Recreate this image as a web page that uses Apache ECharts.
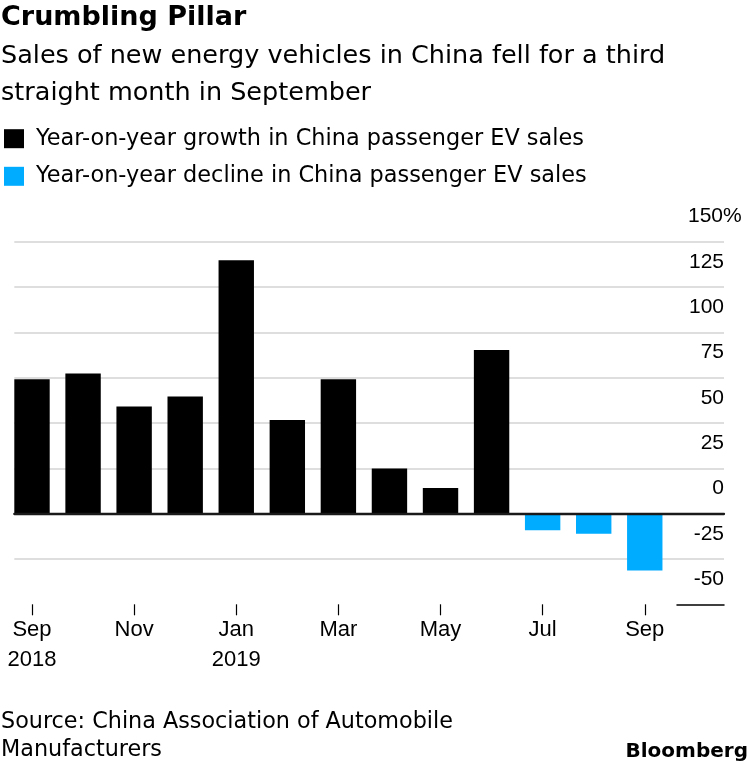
<!DOCTYPE html>
<html><head><meta charset="utf-8">
<script src="https://cdn.jsdelivr.net/npm/echarts@6/dist/echarts.min.js"></script>
<style>html,body{margin:0;padding:0;background:#fff}#c{width:750px;height:768px}</style>
</head><body><div id="c"></div>
<script>
const categories = ['Sep\n2018','Oct','Nov','Dec','Jan\n2019','Feb','Mar','Apr','May','Jun','Jul','Aug','Sep'];
const values = [74.2, 77.3, 59.1, 64.6, 139.8, 51.7, 74.2, 24.9, 14.2, 90.3, -9.1, -11.1, -31.3];
const seriesNames = ['Year-on-year growth in China passenger EV sales', 'Year-on-year decline in China passenger EV sales'];
const yMin = -50, yMax = 150, yStep = 25;

const FONT = '"DejaVu Sans", sans-serif';
const AXFONT = '"Liberation Sans", Arial, sans-serif';
const TOP = 241.7, BOTTOM = 768 - 604.3;
const everyOther = (i) => i % 2 === 0;
const axText = {fontFamily: AXFONT, fontSize: 21, lineHeight: 21, color: '#000'};

const chart = echarts.init(document.getElementById('c'), null, {renderer: 'canvas'});
chart.setOption({
  animation: false,
  backgroundColor: '#fff',
  title: [
    {text: 'Crumbling Pillar', left: 1, top: 4.5, padding: 0,
     textStyle: {fontFamily: FONT, fontWeight: 'bold', fontSize: 27, lineHeight: 27, color: '#000'}},
    {text: 'Sales of new energy vehicles in China fell for a third\nstraight month in September', left: 1, top: 37.5, padding: 0,
     textStyle: {fontFamily: FONT, fontWeight: 'normal', fontSize: 25.5, lineHeight: 37, color: '#000'}},
    {text: 'Source: China Association of Automobile\nManufacturers', left: 1, top: 708, padding: 0,
     textStyle: {fontFamily: FONT, fontWeight: 'normal', fontSize: 22.3, lineHeight: 28, color: '#000'}},
    {text: 'Bloomberg', right: 2, top: 742, padding: 0,
     textStyle: {fontFamily: FONT, fontWeight: 'bold', fontSize: 20, lineHeight: 20, color: '#000'}}
  ],
  legend: {
    orient: 'vertical', left: 4, top: 127.7, padding: 0,
    itemWidth: 20, itemHeight: 19, itemGap: 15.6, icon: 'rect', selectedMode: false,
    textStyle: {fontFamily: FONT, fontSize: 22.4, lineHeight: 22, color: '#000', padding: [0, 0, 0, 7]},
    data: seriesNames
  },
  grid: [
    {left: 6.47, right: 79.7, top: TOP, bottom: BOTTOM},
    {left: 14.3, right: 26, top: TOP, bottom: BOTTOM},
    {left: 677, right: 26, top: TOP, bottom: BOTTOM}
  ],
  xAxis: [
    {gridIndex: 0, type: 'category', data: categories, boundaryGap: true, position: 'bottom',
     axisLine: {show: false, onZero: false},
     axisTick: {show: true, alignWithLabel: true, interval: everyOther, length: 11, lineStyle: {color: '#000', width: 1.2}},
     axisLabel: {interval: everyOther, margin: 11, fontFamily: AXFONT, fontSize: 22, lineHeight: 29.5, color: '#000'},
     splitLine: {show: false}},
    {gridIndex: 1, type: 'value', min: 0, max: 1, z: 5,
     axisLine: {show: true, onZero: true, lineStyle: {color: '#1a1a1a', width: 2.3}},
     axisTick: {show: false}, axisLabel: {show: false}, splitLine: {show: false}},
    {gridIndex: 2, type: 'value', min: 0, max: 1, position: 'bottom',
     axisLine: {show: true, onZero: false, lineStyle: {color: '#000', width: 1.5}},
     axisTick: {show: false}, axisLabel: {show: false}, splitLine: {show: false}}
  ],
  yAxis: [
    {gridIndex: 0, type: 'value', min: yMin, max: yMax, interval: yStep, show: false},
    {gridIndex: 1, type: 'value', min: yMin, max: yMax, interval: yStep, position: 'right',
     axisLine: {show: false}, axisTick: {show: false},
     splitLine: {show: true, showMinLine: false, lineStyle: {color: '#dedede', width: 2}},
     axisLabel: Object.assign({inside: true, margin: 0, verticalAlign: 'bottom', padding: [0, 0, 14.5, 0],
                 formatter: (v) => v === yMax ? '{n|' + v + '}{p|%}' : String(v),
                 rich: {n: Object.assign({align: 'left'}, axText), p: Object.assign({width: 1, align: 'left'}, axText)}}, axText)},
    {gridIndex: 2, type: 'value', min: yMin, max: yMax, interval: yStep, show: false}
  ],
  series: [
    {name: seriesNames[0], type: 'bar', xAxisIndex: 0, yAxisIndex: 0, stack: 's', barWidth: 35.4,
     data: values.map(v => v >= 0 ? v : '-'), itemStyle: {color: '#000'}},
    {name: seriesNames[1], type: 'bar', xAxisIndex: 0, yAxisIndex: 0, stack: 's', barWidth: 35.4,
     data: values.map(v => v < 0 ? v : '-'), itemStyle: {color: '#00acff'}}
  ]
});
</script></body></html>
